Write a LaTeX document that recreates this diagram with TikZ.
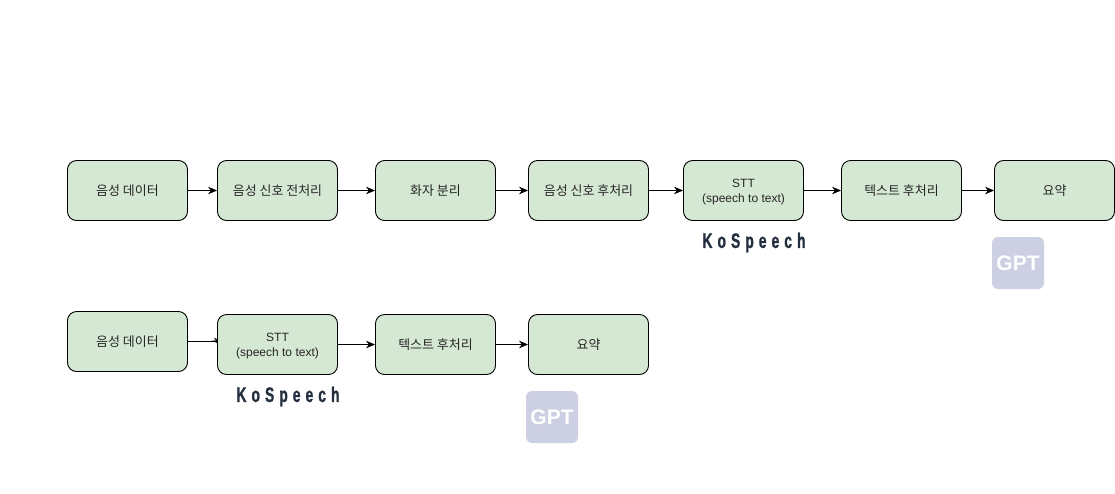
\documentclass[tikz,border=0pt]{standalone}
\usepackage{fontspec}
\setmainfont{Liberation Sans}
\newfontfamily\krfont{Noto Sans CJK KR}[Scale=1.08]
\newfontfamily\kofont{Liberation Sans}[FakeStretch=0.66,LetterSpace=24,FakeBold=1]
\usepackage{xcolor}
\usetikzlibrary{positioning, arrows.meta, backgrounds}

\definecolor{stepgreen}{HTML}{D5E8D4}
\definecolor{gptback}{HTML}{CDD0E3}
\definecolor{kotext}{HTML}{232F3E}

\begin{document}
\begin{tikzpicture}[x=1pt,y=-1pt,>={Stealth[length=9pt,width=7.5pt]},
    stepbox/.style={draw=black,fill=stepgreen,rounded corners=9pt,line width=0.9pt,minimum width=120pt,minimum height=60pt,inner sep=0pt,align=center,font=\fontsize{12pt}{15pt}\selectfont,text=black!85},
    flow/.style={->,line width=0.9pt},
    kolabel/.style={font=\kofont\bfseries\fontsize{21pt}{21pt}\selectfont,text=kotext,inner sep=0pt},
    gptlogo/.style={fill=gptback,rounded corners=6pt,minimum size=52pt,inner sep=0pt,text=white,font=\bfseries\fontsize{21pt}{21pt}\selectfont}]
    \useasboundingbox (0,0) rectangle (1115,493);

    % first row
    \node[stepbox] (raw1) at (127.5,190.5) {\krfont 음성 데이터};
    \node[stepbox] (pre1) at (277.5,190.5) {\krfont 음성 신호 전처리};
    \node[stepbox] (spk1) at (435.5,190.5) {\krfont 화자 분리};
    \node[stepbox] (post1) at (588.5,190.5) {\krfont 음성 신호 후처리};
    \node[stepbox] (stt1) at (743.5,190.5) {\rule{0pt}{11.6pt}STT\\(speech to text)};
    \node[stepbox] (txt1) at (901.5,190.5) {\krfont 텍스트 후처리};
    \node[stepbox] (sum1) at (1054.5,190.5) {\krfont 요약};

    \node[kolabel] (ko1) at (754,242.5) {KoSpeech};
    \node[gptlogo] (gpt1) at (1018,263) {GPT};

    % second row
    \node[stepbox] (raw2) at (127.5,341.5) {\krfont 음성 데이터};
    \node[stepbox] (stt2) at (277.5,344.5) {\rule{0pt}{11.6pt}STT\\(speech to text)};
    \node[stepbox] (txt2) at (435.5,344.5) {\krfont 텍스트 후처리};
    \node[stepbox] (sum2) at (588.5,344.5) {\krfont 요약};

    \node[kolabel] (ko2) at (288,396.5) {KoSpeech};
    \node[gptlogo] (gpt2) at (552,417) {GPT};

    \draw[flow] (raw1) -- (pre1);
    \draw[flow] (pre1) -- (spk1);
    \draw[flow] (spk1) -- (post1);
    \draw[flow] (post1) -- (stt1);
    \draw[flow] (stt1) -- (txt1);
    \draw[flow] (txt1) -- (sum1);

    % this tip sits under the box
    \coordinate (back2) at (214.5,338);
    \coordinate (tip2) at (221,344.5);
    \begin{scope}[on background layer]
        \draw[line width=0.9pt] (raw2.east) -- (stt2.west |- raw2.east);
        \draw[flow] (back2) -- (tip2);
    \end{scope}
    \draw[flow] (stt2) -- (txt2);
    \draw[flow] (txt2) -- (sum2);
\end{tikzpicture}
\end{document}
